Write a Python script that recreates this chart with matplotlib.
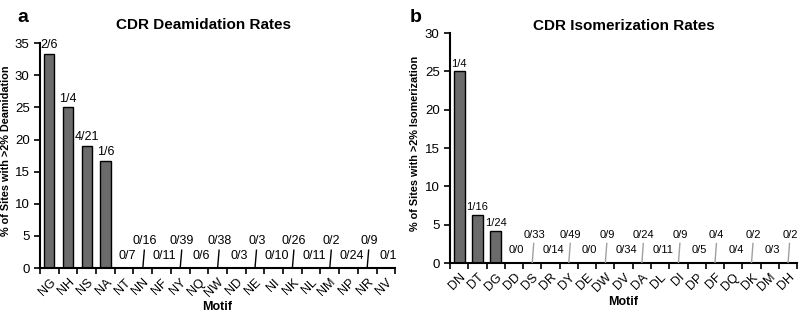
import matplotlib.pyplot as plt
import numpy as np

plt.rcParams['font.family'] = ['Liberation Sans', 'DejaVu Sans']

# deamidation data
deam_motifs = ['NG', 'NH', 'NS', 'NA', 'NT', 'NN', 'NF', 'NY', 'NQ', 'NW',
               'ND', 'NE', 'NI', 'NK', 'NL', 'NM', 'NP', 'NR', 'NV']
deam_rates = [33.3, 25.0, 19.05, 16.67, 0, 0, 0, 0, 0, 0,
              0, 0, 0, 0, 0, 0, 0, 0, 0]
deam_counts = ['2/6', '1/4', '4/21', '1/6', '0/7', '0/16', '0/11', '0/39', '0/6', '0/38',
               '0/3', '0/3', '0/10', '0/26', '0/11', '0/2', '0/24', '0/9', '0/1']

# isomerization data
iso_motifs = ['DN', 'DT', 'DG', 'DD', 'DS', 'DR', 'DY', 'DE', 'DW', 'DV',
              'DA', 'DL', 'DI', 'DP', 'DF', 'DQ', 'DK', 'DM', 'DH']
iso_rates = [25.0, 6.25, 4.17, 0, 0, 0, 0, 0, 0, 0,
             0, 0, 0, 0, 0, 0, 0, 0, 0]
iso_counts = ['1/4', '1/16', '1/24', '0/0', '0/33', '0/14', '0/49', '0/0', '0/9', '0/34',
              '0/24', '0/11', '0/9', '0/5', '0/4', '0/4', '0/2', '0/3', '0/2']

fig = plt.figure(figsize=(8, 3.15), dpi=100)
ax1 = fig.add_axes([0.05, 0.149, 0.444, 0.714])
ax2 = fig.add_axes([0.5625, 0.165, 0.434, 0.730])


def draw(ax, motifs, rates, counts, ymax, width, fs, line_col, hi_parity, lo, hi,
         title, title_x, title_pad, ylabel, ylab_x):
    x = np.arange(len(motifs))
    ax.bar(x, rates, width=width, color='#6b6b6b', edgecolor='black', linewidth=1.0, zorder=2)
    for i, (r, c) in enumerate(zip(rates, counts)):
        if r > 0:
            ax.text(i, r + ymax * 0.012, c, ha='center', va='bottom', fontsize=fs)
        elif i % 2 != hi_parity:
            # lower label
            ax.text(i + 0.15, lo, c, ha='center', va='bottom', fontsize=fs)
        else:
            # raised label with a small leader line
            ax.plot([i, i + 0.08], [0, hi - ymax * 0.015], color=line_col, lw=1.0, zorder=3)
            ax.text(i + 0.1, hi, c, ha='center', va='bottom', fontsize=fs)
    ax.set_xlim(-0.5, len(motifs) - 0.5)
    ax.set_ylim(0, ymax)
    ax.set_yticks(np.arange(0, ymax + 1, 5))
    ax.set_xticks(x)
    ax.set_xticklabels(motifs, rotation=45, ha='right', rotation_mode='anchor', fontsize=9)
    ax.set_xticks(np.arange(-0.5, len(motifs), 1), minor=True)
    ax.tick_params(axis='x', which='major', length=0, pad=6)
    ax.tick_params(axis='x', which='minor', length=4, width=1.2, direction='out')
    ax.tick_params(axis='y', length=4, width=1.2, labelsize=9.5)
    for s in ['top', 'right']:
        ax.spines[s].set_visible(False)
    for s in ['left', 'bottom']:
        ax.spines[s].set_linewidth(1.5)
    ax.set_title(title, fontsize=11, fontweight='bold', x=title_x, pad=title_pad)
    ax.set_xlabel('Motif', fontsize=9, fontweight='bold', labelpad=1)
    ax.set_ylabel(ylabel, fontsize=7.8, fontweight='bold')
    ax.yaxis.set_label_coords(ylab_x, 0.52)


draw(ax1, deam_motifs, deam_rates, deam_counts, 35, 0.55, 9, 'black', 1, 0.9, 3.3,
     'CDR Deamidation Rates', 0.46, 10, '% of Sites with >2% Deamidation', -0.082)
draw(ax2, iso_motifs, iso_rates, iso_counts, 30, 0.6, 8, '#a0a0a0', 0, 1.1, 3.0,
     'CDR Isomerization Rates', 0.5, 1, '% of Sites with >2% Isomerization', -0.086)

fig.text(0.022, 0.93, 'a', fontsize=14, fontweight='bold')
fig.text(0.512, 0.93, 'b', fontsize=14, fontweight='bold')

fig.savefig('out.png', dpi=100)
